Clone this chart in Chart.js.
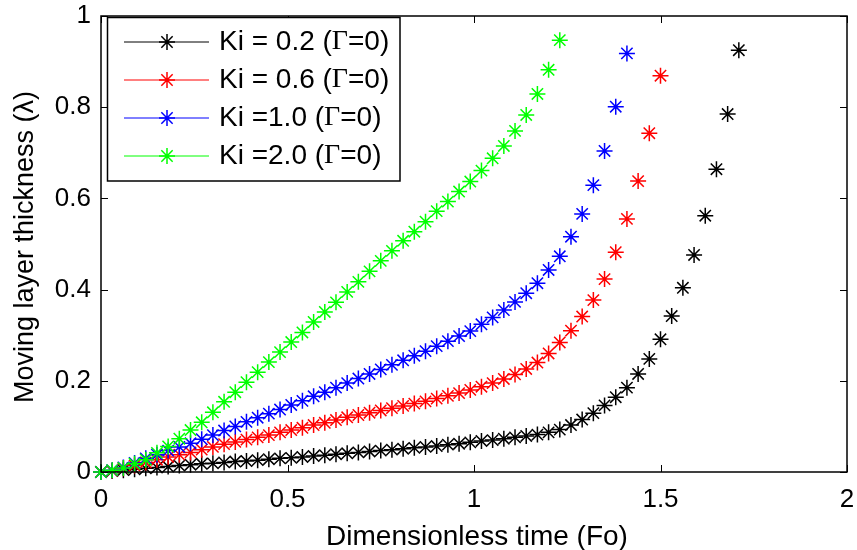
<!DOCTYPE html>
<html>
<head>
<meta charset="utf-8">
<script src="https://cdn.jsdelivr.net/npm/chart.js@4.4.1/dist/chart.umd.min.js"></script>
<style>
  html, body { margin: 0; padding: 0; background: #fff; }
  #wrap { position: relative; width: 857px; height: 550px; }
</style>
</head>
<body>
<div id="wrap"><canvas id="c" width="857" height="550"></canvas></div>
<script>
// Dimensionless time grid (Fo)
const fo = [0,0.03,0.06,0.09,0.12,0.15,0.18,0.21,0.24,0.27,
            0.30,0.33,0.36,0.39,0.42,0.45,0.48,0.51,0.54,0.57,
            0.60,0.63,0.66,0.69,0.72,0.75,0.78,0.81,0.84,0.87,
            0.90,0.93,0.96,0.99,1.02,1.05,1.08,1.11,1.14,1.17,
            1.20,1.23,1.26,1.29,1.32,1.35,1.38,1.41,1.44,1.47,
            1.50,1.53,1.56,1.59,1.62,1.65,1.68,1.71];

const seriesLabels = ['Ki = 0.2 (Γ=0)', 'Ki = 0.6 (Γ=0)', 'Ki =1.0 (Γ=0)', 'Ki =2.0 (Γ=0)'];

const ki02 = [0,0.002,0.004,0.006,0.008,0.010,0.012,0.014,0.016,0.018,
              0.019,0.021,0.023,0.024,0.026,0.028,0.030,0.031,0.033,0.035,
              0.037,0.039,0.041,0.043,0.045,0.047,0.049,0.051,0.053,0.055,
              0.057,0.060,0.062,0.065,0.068,0.070,0.073,0.076,0.079,0.082,
              0.087,0.093,0.103,0.115,0.129,0.146,0.164,0.185,0.215,0.248,
              0.291,0.342,0.404,0.476,0.562,0.664,0.785,0.925];

const ki06 = [0,0.003,0.008,0.014,0.021,0.027,0.033,0.038,0.043,0.049,
              0.055,0.061,0.066,0.071,0.076,0.081,0.087,0.092,0.097,0.103,
              0.108,0.114,0.120,0.125,0.130,0.135,0.140,0.145,0.150,0.155,
              0.161,0.167,0.173,0.180,0.187,0.195,0.204,0.214,0.226,0.240,
              0.260,0.284,0.310,0.341,0.377,0.423,0.482,0.555,0.638,0.743,
              0.869];

const ki10 = [0,0.004,0.010,0.020,0.030,0.038,0.047,0.055,0.063,0.072,
              0.081,0.091,0.100,0.110,0.119,0.128,0.137,0.147,0.156,0.166,
              0.175,0.185,0.195,0.205,0.215,0.225,0.235,0.245,0.255,0.265,
              0.276,0.287,0.298,0.309,0.324,0.339,0.355,0.373,0.392,0.414,
              0.443,0.473,0.516,0.566,0.629,0.704,0.801,0.918];

const ki20 = [0,0.004,0.009,0.018,0.027,0.042,0.056,0.073,0.092,0.109,
              0.131,0.154,0.175,0.197,0.219,0.241,0.263,0.285,0.306,0.329,
              0.351,0.372,0.395,0.417,0.440,0.463,0.485,0.507,0.527,0.549,
              0.572,0.593,0.615,0.637,0.661,0.688,0.715,0.748,0.783,0.829,
              0.882,0.947];

const xTicks = [0, 0.5, 1, 1.5, 2];
const yTicks = [0, 0.2, 0.4, 0.6, 0.8, 1];
const xTitle = 'Dimensionless time (Fo)';
const yTitle = 'Moving layer thickness (λ)';

const colors = ['#000000', '#ff0000', '#0000ff', '#00ff00'];
const allSeries = [ki02, ki06, ki10, ki20];

const FONT = '"Liberation Sans", Arial, sans-serif';

function toXY(arr) { return arr.map((v, i) => ({ x: fo[i], y: v })); }

const datasets = allSeries.map((s, i) => ({
  label: seriesLabels[i],
  data: toXY(s),
  borderColor: colors[i],
  backgroundColor: colors[i],
  showLine: false,
  borderWidth: 1,
  pointStyle: 'star',
  pointRadius: 8,
  pointBorderWidth: 1.5,
  pointBorderColor: colors[i],
  pointBackgroundColor: colors[i],
  clip: false,
  order: 3 - i
}));

const frame = {
  id: 'frame',
  afterDraw(chart) {
    const ctx = chart.ctx;
    const a = chart.chartArea;
    const xs = chart.scales.x, ys = chart.scales.y;
    ctx.save();
    ctx.strokeStyle = '#000';
    ctx.lineWidth = 1.5;
    ctx.strokeRect(a.left, a.top, a.right - a.left, a.bottom - a.top);
    // inward ticks
    const tl = 7;
    ctx.lineWidth = 1;
    ctx.beginPath();
    xTicks.forEach(v => {
      const px = Math.round(xs.getPixelForValue(v)) + 0.5;
      ctx.moveTo(px, a.bottom); ctx.lineTo(px, a.bottom - tl);
      ctx.moveTo(px, a.top); ctx.lineTo(px, a.top + tl);
    });
    yTicks.forEach(v => {
      const py = Math.round(ys.getPixelForValue(v)) + 0.5;
      ctx.moveTo(a.left, py); ctx.lineTo(a.left + tl, py);
      ctx.moveTo(a.right, py); ctx.lineTo(a.right - tl, py);
    });
    ctx.stroke();

    // axis titles
    ctx.fillStyle = '#000';
    ctx.font = '28px ' + FONT;
    ctx.textAlign = 'center';
    ctx.textBaseline = 'alphabetic';
    ctx.fillText(xTitle, (a.left + a.right) / 2 + 3, 545);
    ctx.save();
    ctx.translate(33, (a.top + a.bottom) / 2 + 3);
    ctx.rotate(-Math.PI / 2);
    ctx.font = '27px ' + FONT;
    ctx.fillText(yTitle, 0, 0);
    ctx.restore();

    // legend
    const lx = 107.5, ly = 17.5, lw = 292.5, lh = 163.5;
    ctx.fillStyle = '#fff';
    ctx.fillRect(lx, ly, lw, lh);
    ctx.strokeStyle = '#000';
    ctx.lineWidth = 1.5;
    ctx.strokeRect(lx, ly, lw, lh);
    const rows = [42, 80, 118, 156];
    seriesLabels.forEach((lab, i) => {
      const y = rows[i];
      ctx.strokeStyle = colors[i];
      ctx.lineWidth = 1;
      ctx.beginPath();
      ctx.moveTo(124, y); ctx.lineTo(209, y);
      ctx.stroke();
      ctx.lineWidth = 1.5;
      ctx.beginPath();
      const r = 8, d = r * Math.SQRT1_2;
      ctx.moveTo(167, y - r); ctx.lineTo(167, y + r);
      ctx.moveTo(167 - r, y); ctx.lineTo(167 + r, y);
      ctx.moveTo(167 - d, y - d); ctx.lineTo(167 + d, y + d);
      ctx.moveTo(167 - d, y + d); ctx.lineTo(167 + d, y - d);
      ctx.stroke();
      // text with serif Gamma
      ctx.fillStyle = '#000';
      ctx.textAlign = 'left';
      ctx.textBaseline = 'middle';
      const parts = lab.split('Γ');
      let x = 219;
      ctx.font = '28px ' + FONT;
      ctx.fillText(parts[0], x, y);
      x += ctx.measureText(parts[0]).width;
      ctx.font = '28px "Liberation Serif", "Times New Roman", serif';
      ctx.fillText('Γ', x, y);
      x += ctx.measureText('Γ').width;
      ctx.font = '28px ' + FONT;
      ctx.fillText(parts[1], x, y);
    });
    ctx.restore();
  }
};

new Chart(document.getElementById('c'), {
  type: 'line',
  data: { datasets },
  options: {
    responsive: false,
    animation: false,
    events: [],
    layout: { padding: { left: 0, top: 16, right: 10, bottom: 0 } },
    plugins: { legend: { display: false }, tooltip: { enabled: false } },
    scales: {
      x: {
        type: 'linear', min: 0, max: 2,
        afterFit: s => { s.height = 78; s.paddingLeft = 0; s.paddingRight = 0; },
        afterBuildTicks: s => { s.ticks = xTicks.map(v => ({ value: v })); },
        grid: { display: false, drawTicks: false },
        border: { display: false },
        ticks: { color: '#000', font: { family: FONT, size: 26 }, padding: 12, maxRotation: 0,
                 callback: v => String(v) }
      },
      y: {
        type: 'linear', min: 0, max: 1,
        afterFit: s => { s.width = 101; s.paddingTop = 0; s.paddingBottom = 0; },
        afterBuildTicks: s => { s.ticks = yTicks.map(v => ({ value: v })); },
        grid: { display: false, drawTicks: false },
        border: { display: false },
        ticks: { color: '#000', font: { family: FONT, size: 26 }, padding: 10,
                 callback: v => String(v) }
      }
    }
  },
  plugins: [frame]
});
</script>
</body>
</html>
